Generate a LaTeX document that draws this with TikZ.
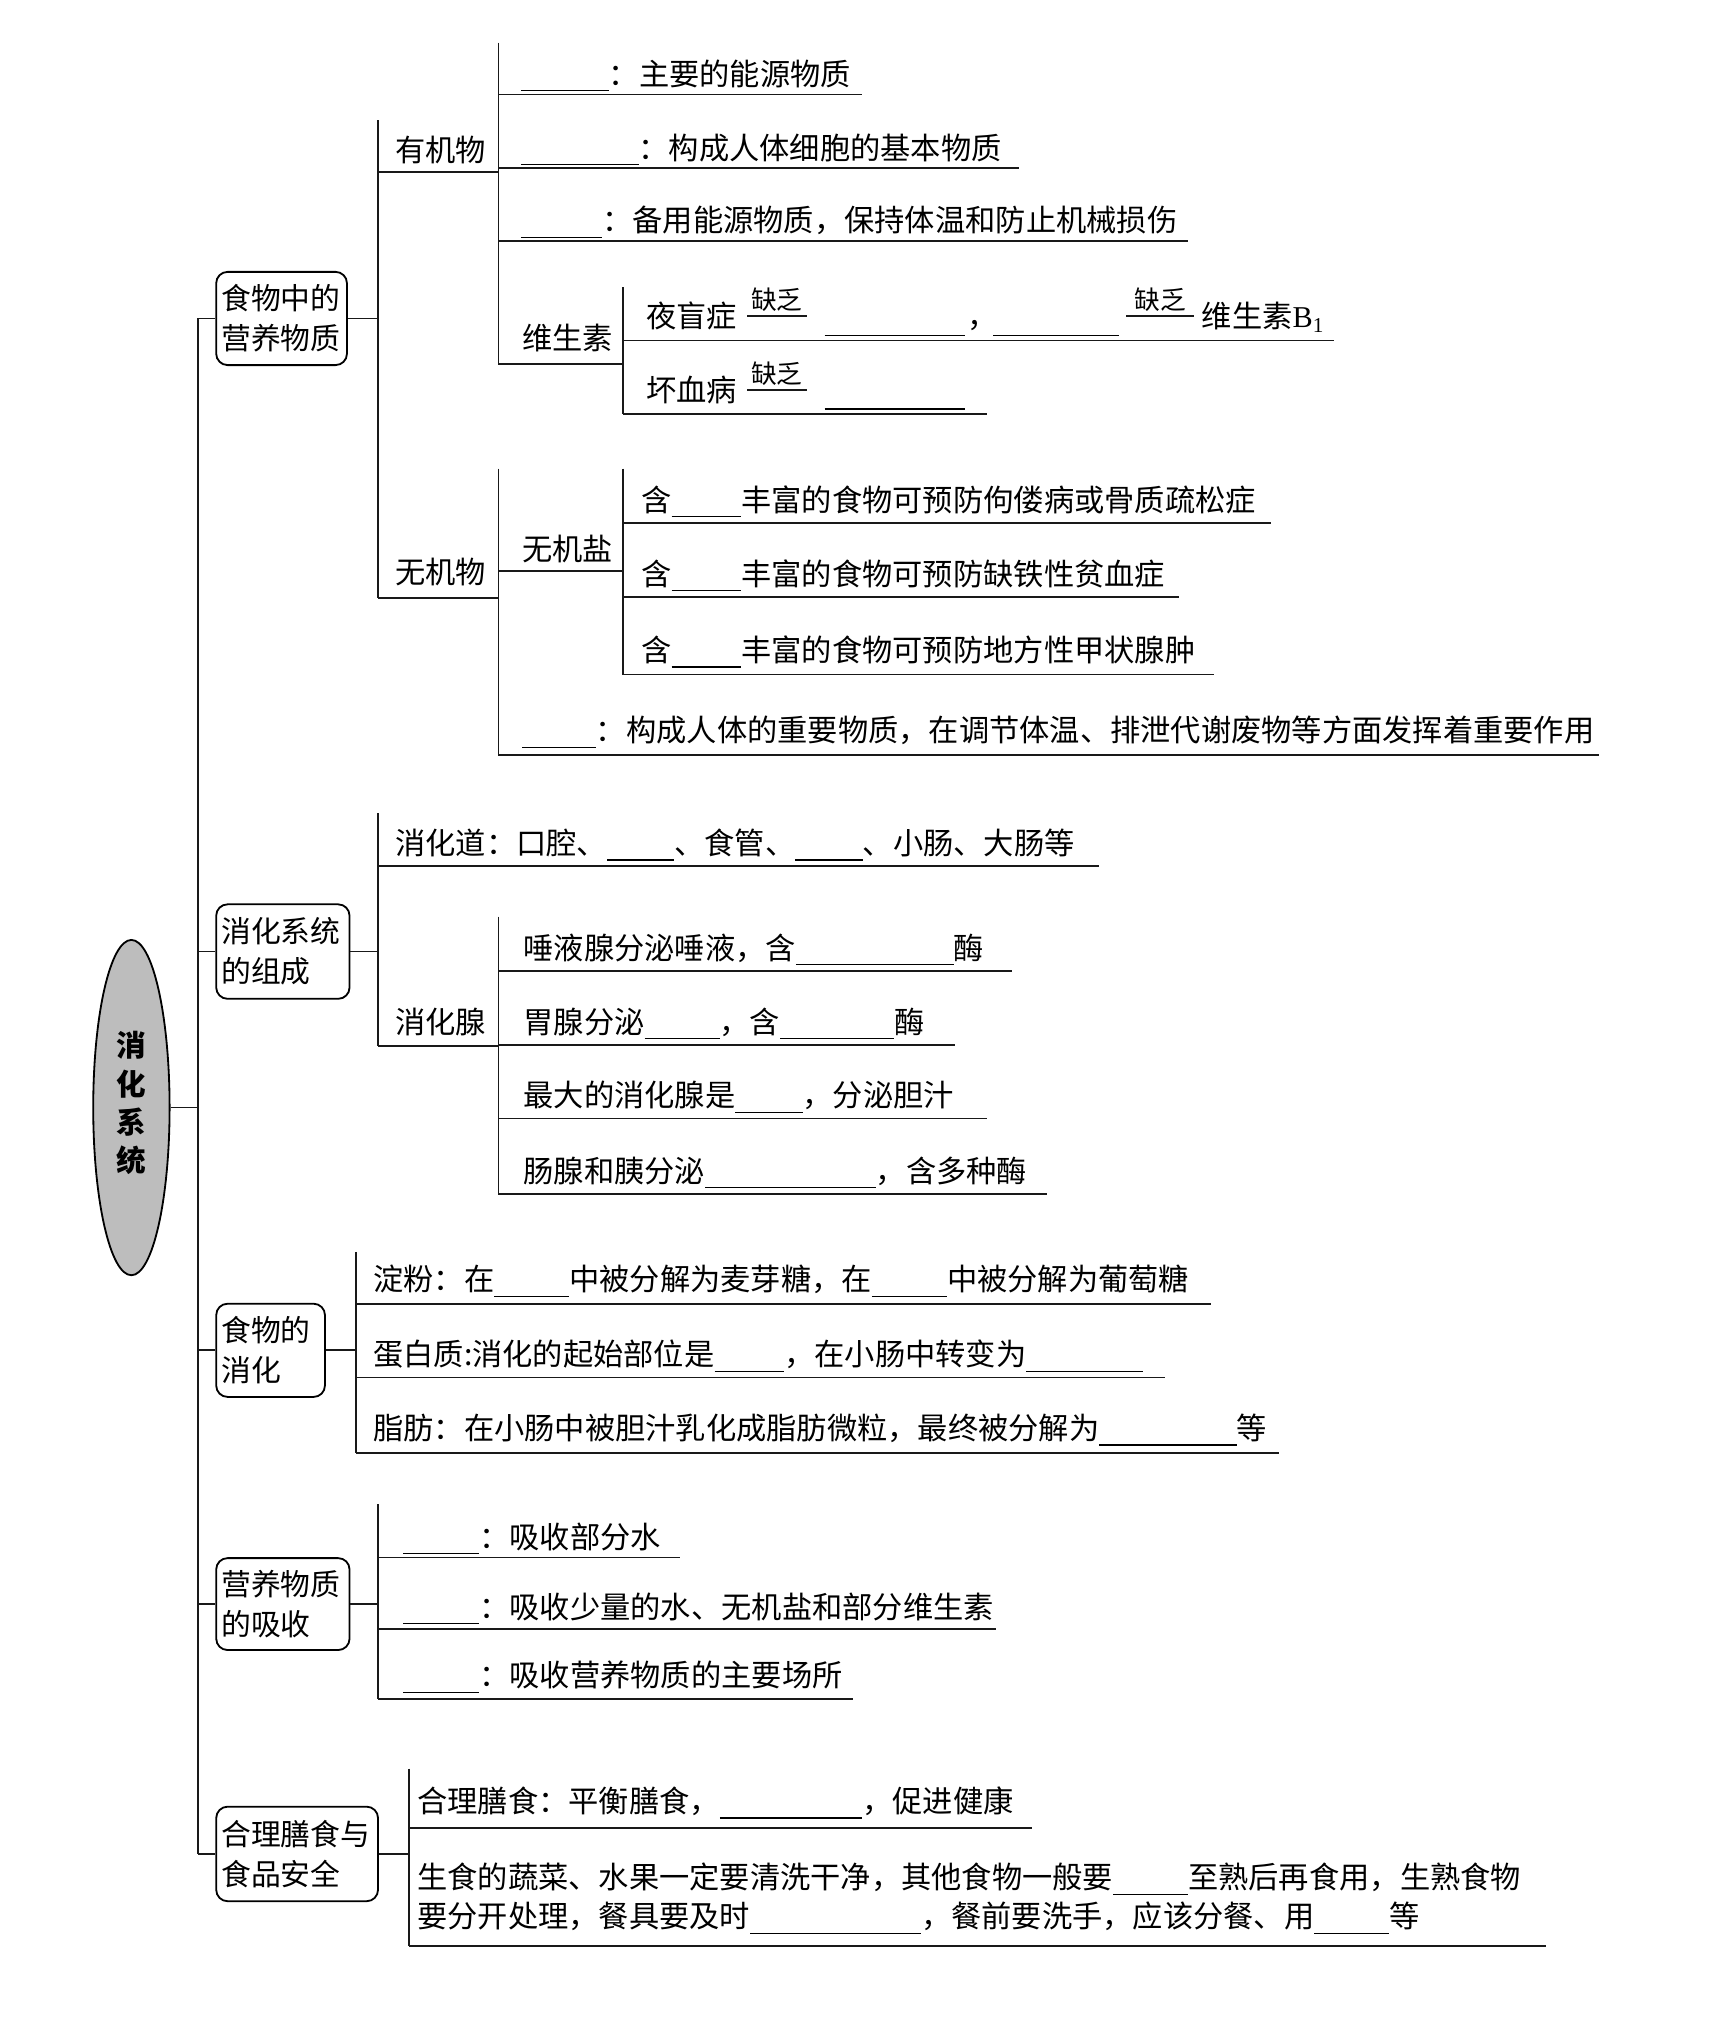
\documentclass[tikz,border=0pt]{standalone}
\usepackage{fontspec}
\setmainfont{Noto Sans CJK SC}
\newfontfamily\latserif{Liberation Serif}
\usetikzlibrary{shapes.geometric}
\newlength\ul
\setlength\ul{0.02cm}
\newcommand\bk[1]{\rule[-0.2em]{#1\ul}{0.55pt}}
\newcommand\rowfont{\fontsize{13.3pt}{17.1pt}\selectfont}
\newcommand\boxfont{\fontsize{13.1pt}{17.6pt}\selectfont}
\newcommand\smfont{\fontsize{11.3pt}{13pt}\selectfont}
\tikzset{
  ln/.style={line width=0.8pt, black!90},
  blank/.style={line width=0.55pt},
  row/.style={anchor=base west, inner sep=0pt, font=\rowfont},
  lack/.style={anchor=south, inner sep=0pt, font=\smfont},
  bx/.style={draw, line width=0.8pt, rounded corners=5pt, align=left, inner xsep=4\ul, inner ysep=0pt, font=\boxfont},
}
\begin{document}
\begin{tikzpicture}[x=0.02cm, y=-0.02cm]
\useasboundingbox (0,0) rectangle (1324,1568);

% ---------- root ----------
\node[ellipse, draw, line width=0.8pt, fill=black!26, minimum width=59\ul, minimum height=259\ul, inner sep=0pt] (root) at (101.5,855.5) {};
\node[align=center, inner sep=0pt, font=\fontsize{13pt}{16.8pt}\selectfont\bfseries] (roottxt) at (101.5,852) {消\\化\\系\\统};
\coordinate (trunkTop) at (153,246);
\coordinate (trunkBot) at (153,1432);
\draw[ln] (trunkTop) -- (trunkBot);
\draw[ln] (root.east) -- (root.east -| trunkTop);

% ---------- level-1 boxes ----------
\node[bx, minimum width=101\ul, minimum height=72\ul, text width=93\ul] (b1) at (217.5,246) {食物中的\\营养物质};
\node[bx, minimum width=103\ul, minimum height=73\ul, text width=95\ul] (b2) at (218.5,735) {消化系统\\的组成};
\node[bx, minimum width=84\ul, minimum height=72\ul, text width=76\ul] (b3) at (209,1043) {食物的\\消化};
\node[bx, minimum width=103\ul, minimum height=71\ul, text width=95\ul] (b4) at (218.5,1239) {营养物质\\的吸收};
\node[bx, minimum width=125\ul, minimum height=73\ul, text width=117\ul] (b5) at (229.5,1432) {合理膳食与\\食品安全};

\foreach \b in {b1,b2,b3,b4,b5} \draw[ln] (\b.west -| trunkTop) -- (\b.west);

% ================= section 1 =================
\draw[ln] (b1.east) -- (292,246);
\draw[ln] (292,93) -- (292,462);
\node[row] (youji) at (305,125) {有机物};
\draw[ln] (292,133) -- (385,133);
\draw[ln] (385,33) -- (385,281);
\node[row] (r11) at (402,66) {\bk{68}：主要的能源物质};
\draw[ln] (385,73) -- (666,73);
\node[row] (r12) at (402,123) {\bk{91}：构成人体细胞的基本物质};
\draw[ln] (385,130) -- (787,130);
\node[row] (r13) at (402,179) {\bk{63}：备用能源物质，保持体温和防止机械损伤};
\draw[ln] (385,186) -- (918,186);
\node[row] (wss) at (403,270) {维生素};
\draw[ln] (385,281) -- (481,281);
\draw[ln] (481,222) -- (481,320);
% night blindness row
\node[row] (ymz) at (499,253) {夜盲症};
\draw[ln] (577,244) -- (623,244);
\node[lack] (q1) at (600,241) {缺乏};
\draw[blank] (637,259) -- (745,259);
\node[row] (comma1) at (747,253) {，};
\draw[blank] (767,259) -- (864,259);
\draw[ln] (870,244) -- (922,244);
\node[lack] (q2) at (896,241) {缺乏};
\node[row] (vb1) at (928,253) {维生素{\latserif B}\textsubscript{\latserif 1}};
\draw[ln] (481,263) -- (1030,263);
% scurvy row
\node[row] (hxb) at (499,310) {坏血病};
\draw[ln] (577,301) -- (623,301);
\node[lack] (q3) at (600,298) {缺乏};
\draw[blank] (637,316) -- (745,316);
\draw[ln] (481,320) -- (762,320);

\node[row] (wuji) at (305,451) {无机物};
\draw[ln] (292,462) -- (385,462);
\draw[ln] (385,362) -- (385,583);
\node[row] (wjy) at (403,433) {无机盐};
\draw[ln] (385,441) -- (481,441);
\draw[ln] (481,362) -- (481,521);
\node[row] (r21) at (495,395) {含\bk{54}丰富的食物可预防佝偻病或骨质疏松症};
\draw[ln] (481,404) -- (982,404);
\node[row] (r22) at (495,452) {含\bk{54}丰富的食物可预防缺铁性贫血症};
\draw[ln] (481,461) -- (911,461);
\node[row] (r23) at (495,511) {含\bk{54}丰富的食物可预防地方性甲状腺肿};
\draw[ln] (481,521) -- (938,521);
\node[row] (r24) at (403,573) {\bk{57}：构成人体的重要物质，在调节体温、排泄代谢废物等方面发挥着重要作用};
\draw[ln] (385,583) -- (1235,583);

% ================= section 2 =================
\draw[ln] (b2.east) -- (292,735);
\draw[ln] (292,628) -- (292,808);
\node[row] (r31) at (305,660) {消化道：口腔、\bk{52}、食管、\bk{52}、小肠、大肠等};
\draw[ln] (292,669) -- (849,669);
\node[row] (xhx) at (305,798) {消化腺};
\draw[ln] (292,808) -- (385,808);
\draw[ln] (385,708) -- (385,922);
\node[row] (r32) at (404,741) {唾液腺分泌唾液，含\bk{122}酶};
\draw[ln] (385,750) -- (782,750);
\node[row] (r33) at (404,798) {胃腺分泌\bk{58}，含\bk{88}酶};
\draw[ln] (385,807) -- (738,807);
\node[row] (r34) at (404,855) {最大的消化腺是\bk{52}，分泌胆汁};
\draw[ln] (385,864) -- (762,864);
\node[row] (r35) at (404,913) {肠腺和胰分泌\bk{132}，含多种酶};
\draw[ln] (385,922) -- (809,922);

% ================= section 3 =================
\draw[ln] (b3.east) -- (275,1043);
\draw[ln] (275,967) -- (275,1122);
\node[row] (r41) at (288,997) {淀粉：在\bk{58}中被分解为麦芽糖，在\bk{58}中被分解为葡萄糖};
\draw[ln] (275,1007) -- (935,1007);
\node[row] (r42) at (288,1055) {蛋白质:消化的起始部位是\bk{54}，在小肠中转变为\bk{90}};
\draw[ln] (275,1064) -- (900,1064);
\node[row] (r43) at (288,1112) {脂肪：在小肠中被胆汁乳化成脂肪微粒，最终被分解为\bk{106}等};
\draw[ln] (275,1122) -- (988,1122);

% ================= section 4 =================
\draw[ln] (b4.east) -- (292,1239);
\draw[ln] (292,1162) -- (292,1312);
\node[row] (r51) at (311,1196) {\bk{59}：吸收部分水};
\draw[ln] (292,1203) -- (525,1203);
\node[row] (r52) at (311,1250) {\bk{59}：吸收少量的水、无机盐和部分维生素};
\draw[ln] (292,1258) -- (769,1258);
\node[row] (r53) at (311,1303) {\bk{59}：吸收营养物质的主要场所};
\draw[ln] (292,1312) -- (659,1312);

% ================= section 5 =================
\draw[ln] (b5.east) -- (316,1432);
\draw[ln] (316,1366) -- (316,1503);
\node[row] (r61) at (322,1400) {合理膳食：平衡膳食，\bk{110}，促进健康};
\draw[ln] (316,1412) -- (797,1412);
\node[row] (r62a) at (322,1459) {生食的蔬菜、水果一定要清洗干净，其他食物一般要\bk{58}至熟后再食用，生熟食物};
\node[row] (r62b) at (322,1489) {要分开处理，餐具要及时\bk{132}，餐前要洗手，应该分餐、用\bk{58}等};
\draw[ln] (316,1503) -- (1194,1503);
\end{tikzpicture}
\end{document}
